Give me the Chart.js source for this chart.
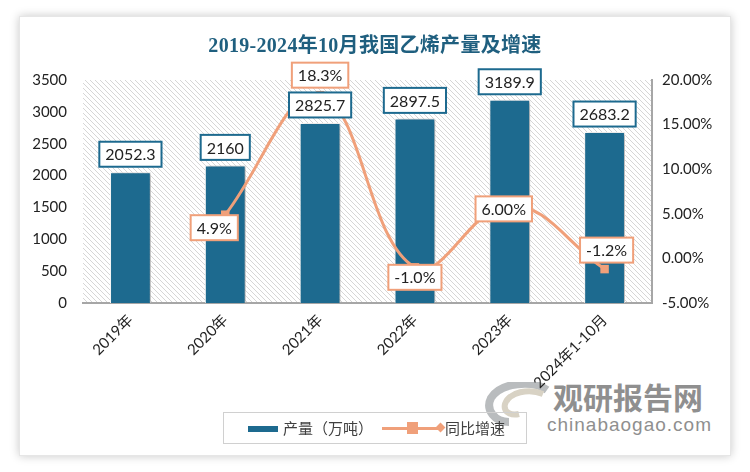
<!DOCTYPE html>
<html>
<head>
<meta charset="utf-8">
<script src="https://cdn.jsdelivr.net/npm/chart.js@4/dist/chart.umd.min.js"></script>
<style>
  html, body { margin: 0; padding: 0; background: #fff; }
  #wrap { position: relative; width: 750px; height: 472px; overflow: hidden; font-family: "Noto Sans CJK SC", sans-serif; }
  #frame { position: absolute; left: 19px; top: 16px; width: 710px; height: 438px; border: 1px solid #e6e6e6; background: #fff; box-shadow: 0 0 9px rgba(0,0,0,0.22); }
  #title { position: absolute; left: 0; width: 750px; top: 29px; text-align: center; font-family: "Liberation Serif", "Noto Sans CJK SC", serif; font-size: 20px; color: #1f5f7f; font-weight: bold; letter-spacing: 0.3px; }
  #legend { position: absolute; left: 223px; top: 412px; width: 302px; height: 30px; border: 1px solid #d0d0d0; font-size: 15px; color: #404040; }
  #legend .sw1 { position: absolute; left: 24px; top: 13px; width: 30px; height: 6px; background: #1d6a8f; }
  #legend .t1 { position: absolute; left: 59px; top: 4px; }
  #legend .ln { position: absolute; left: 158px; top: 14px; width: 58px; height: 3px; background: #f0a07a; }
  #legend .sq { position: absolute; left: 183px; top: 9px; width: 11px; height: 12px; background: #f0a07a; }
  #legend .dm { position: absolute; left: 213px; top: 11px; width: 7px; height: 7px; background: #f0a07a; transform: rotate(45deg); }
  #legend .t2 { position: absolute; left: 221px; top: 4px; }
  .wm { position: absolute; white-space: nowrap; color: #8f8f8f; }
  #wm1 { left: 553px; top: 374px; font-size: 30px; font-weight: bold; letter-spacing: 0px; }
  #wm2 { left: 547px; top: 414px; font-size: 19px; font-family: "Liberation Sans", sans-serif; letter-spacing: 1px; }
  #logo { position: absolute; left: 485px; top: 382px; }
  canvas { position: absolute; left: 0; top: 0; }
</style>
</head>
<body>
<div id="wrap">
  <div id="frame"></div>
  <svg id="logo" width="66" height="44" viewBox="0 0 66 44">
    <path d="M62 8 C48 -2 16 0 6 16 C0 28 10 40 24 40" fill="none" stroke="#b9bcbe" stroke-width="8"/>
    <path d="M58 12 C44 6 24 10 20 22 C18 30 26 34 34 32" fill="none" stroke="#d8d2c4" stroke-width="6"/>
  </svg>
  <div id="wm1" class="wm">观研报告网</div>
  <div id="wm2" class="wm">chinabaogao.com</div>
  <canvas id="chart" width="750" height="472"></canvas>
  <div id="title">2019-2024年10月我国乙烯产量及增速</div>
  <div id="legend">
    <div class="sw1"></div><span class="t1">产量（万吨）</span>
    <div class="ln"></div><div class="sq"></div><div class="dm"></div><span class="t2">同比增速</span>
  </div>
</div>
<script>
const categories = ['2019年', '2020年', '2021年', '2022年', '2023年', '2024年1-10月'];
const output = [2052.3, 2160, 2825.7, 2897.5, 3189.9, 2683.2];
const outputLabels = ['2052.3', '2160', '2825.7', '2897.5', '3189.9', '2683.2'];
const growth = [null, 4.9, 18.3, -1.0, 6.0, -1.2];
const growthLabels = [null, '4.9%', '18.3%', '-1.0%', '6.00%', '-1.2%'];
const leftTicks = [0, 500, 1000, 1500, 2000, 2500, 3000, 3500];
const rightTicks = [-5, 0, 5, 10, 15, 20];

// label box nudges for the growth line (px)
const growthLabelShift = [null, [-11, 13], [0, -20], [0, 10], [-6, 4], [2, -19]];

const BLUE = '#1d6a8f';
const ORANGE = '#f0a07a';
const tickFont = { family: 'Lato, "Noto Sans CJK SC", sans-serif', size: 15 };
const BAR = 1, LINE = 0; // dataset indexes

// hatched plot background
function makeHatch() {
    const c = document.createElement('canvas');
    c.width = 5; c.height = 5;
    const g = c.getContext('2d');
    g.fillStyle = '#fff';
    g.fillRect(0, 0, 5, 5);
    g.strokeStyle = '#d6d6d6';
    g.lineWidth = 1;
    g.beginPath();
    g.moveTo(-1, -1); g.lineTo(6, 6);
    g.moveTo(-1, 4); g.lineTo(1, 6);
    g.moveTo(4, -1); g.lineTo(6, 1);
    g.stroke();
    return c;
}

const hatchPlugin = {
    id: 'hatch',
    beforeDraw(chart) {
        const { ctx, chartArea: a } = chart;
        ctx.save();
        ctx.fillStyle = ctx.createPattern(makeHatch(), 'repeat');
        ctx.fillRect(a.left, a.top, a.right - a.left, a.bottom - a.top);
        ctx.restore();
    }
};

const shadowPlugin = {
    id: 'barShadow',
    beforeDatasetDraw(chart, args) {
        if (args.index !== BAR) return;
        const ctx = chart.ctx;
        ctx.save();
        ctx.shadowColor = 'rgba(0,0,0,0.35)';
        ctx.shadowBlur = 4;
        ctx.shadowOffsetX = 2;
        ctx.shadowOffsetY = 1;
    },
    afterDatasetDraw(chart, args) {
        if (args.index !== BAR) return;
        chart.ctx.restore();
    }
};

function boxLabel(ctx, text, cx, cy, border) {
    ctx.font = '16px Lato, sans-serif';
    const w = ctx.measureText(text).width + 12;
    const h = 25;
    ctx.fillStyle = '#fff';
    ctx.fillRect(cx - w / 2, cy - h / 2, w, h);
    ctx.strokeStyle = border;
    ctx.lineWidth = 2;
    ctx.strokeRect(cx - w / 2, cy - h / 2, w, h);
    ctx.fillStyle = '#222';
    ctx.textAlign = 'center';
    ctx.textBaseline = 'middle';
    ctx.fillText(text, cx, cy + 1);
}

const labelPlugin = {
    id: 'boxLabels',
    afterDatasetsDraw(chart) {
        const ctx = chart.ctx;
        ctx.save();
        chart.getDatasetMeta(BAR).data.forEach((bar, i) => {
            boxLabel(ctx, outputLabels[i], bar.x, bar.y - 18, BLUE);
        });
        chart.getDatasetMeta(LINE).data.forEach((pt, i) => {
            if (growth[i] === null) return;
            const s = growthLabelShift[i];
            boxLabel(ctx, growthLabels[i], pt.x + s[0], pt.y + s[1], ORANGE);
        });
        ctx.restore();
    }
};

new Chart(document.getElementById('chart'), {
    data: {
        labels: categories,
        datasets: [{
            type: 'line',
            label: '同比增速',
            data: growth,
            yAxisID: 'y2',
            borderColor: ORANGE,
            backgroundColor: ORANGE,
            borderWidth: 3,
            tension: 0.4,
            pointStyle: 'rect',
            pointRadius: 6,
            pointBorderWidth: 0,
            order: 0
        }, {
            type: 'bar',
            label: '产量（万吨）',
            data: output,
            yAxisID: 'y',
            backgroundColor: BLUE,
            borderColor: '#ffffff',
            borderWidth: 1,
            categoryPercentage: 1,
            barPercentage: 0.43,
            order: 1
        }]
    },
    options: {
        responsive: false,
        animation: false,
        layout: { padding: { left: 10, right: 10, top: 80, bottom: 81 } },
        plugins: {
            legend: { display: false },
            tooltip: { enabled: false }
        },
        scales: {
            x: {
                grid: { display: false, drawTicks: false },
                border: { color: '#a6a6a6', width: 2 },
                ticks: { color: '#222', font: tickFont, maxRotation: 45, minRotation: 45, padding: 8 },
                afterFit(s) { s.height = 88; }
            },
            y: {
                position: 'left',
                min: 0, max: 3500,
                afterBuildTicks(s) { s.ticks = leftTicks.map(v => ({ value: v })); },
                grid: { display: false, drawTicks: false },
                border: { display: false },
                ticks: { color: '#222', font: tickFont, padding: 16, callback: v => String(v) },
                afterFit(s) { s.width = 73; }
            },
            y2: {
                position: 'right',
                min: -5, max: 20,
                afterBuildTicks(s) { s.ticks = rightTicks.map(v => ({ value: v })); },
                grid: { display: false, drawOnChartArea: false, drawTicks: true, tickLength: 6, color: '#a6a6a6' },
                border: { color: '#a6a6a6', width: 2 },
                ticks: { color: '#222', font: tickFont, padding: 4, callback: v => v.toFixed(2) + '%' },
                afterFit(s) { s.width = 88; }
            }
        }
    },
    plugins: [hatchPlugin, shadowPlugin, labelPlugin]
});
</script>
</body>
</html>
